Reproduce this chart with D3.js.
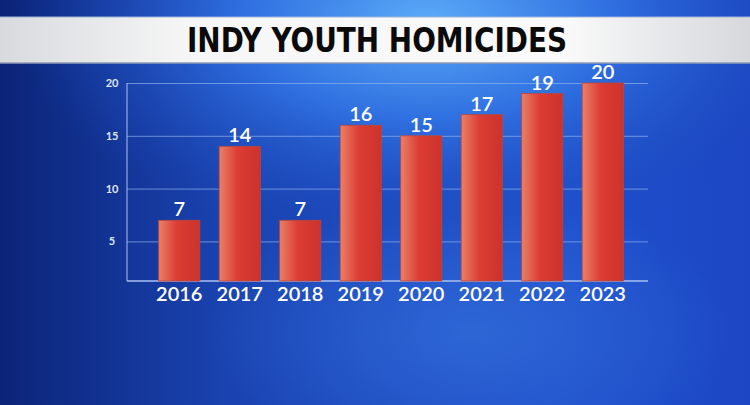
<!DOCTYPE html>
<html>
<head>
<meta charset="utf-8">
<script src="https://cdn.jsdelivr.net/npm/d3@7"></script>
<style>
  html, body { margin: 0; padding: 0; background: #1a47b8; overflow: hidden; }
  svg { display: block; }
</style>
</head>
<body>
<div class="chart"></div>
<script>
// data
var years = ["2016", "2017", "2018", "2019", "2020", "2021", "2022", "2023"];
var homicides = [7, 14, 7, 16, 15, 17, 19, 20];
var yTicks = [5, 10, 15, 20];
var title = "INDY YOUTH HOMICIDES";

var W = 750, H = 405;
var svg = d3.select(".chart").append("svg")
    .attr("width", W)
    .attr("height", H);

var defs = svg.append("defs");

// background glows
var bg1 = defs.append("radialGradient").attr("id", "bgTop")
    .attr("cx", "0.57").attr("cy", "0.05").attr("r", "0.55");
bg1.append("stop").attr("offset", "0").attr("stop-color", "#5aaaf8");
bg1.append("stop").attr("offset", "0.45").attr("stop-color", "#2f6fe0");
bg1.append("stop").attr("offset", "1").attr("stop-color", "#1a45b8").attr("stop-opacity", 0);

var bg2 = defs.append("radialGradient").attr("id", "bgBottom")
    .attr("cx", "0.63").attr("cy", "0.82").attr("r", "0.35");
bg2.append("stop").attr("offset", "0").attr("stop-color", "#2e66d6");
bg2.append("stop").attr("offset", "1").attr("stop-color", "#2e66d6").attr("stop-opacity", 0);

var bgEdge = defs.append("linearGradient").attr("id", "bgEdge")
    .attr("x1", "0").attr("x2", "1").attr("y1", "0").attr("y2", "0");
bgEdge.append("stop").attr("offset", "0").attr("stop-color", "#0b2478");
bgEdge.append("stop").attr("offset", "0.3").attr("stop-color", "#1a43b0");
bgEdge.append("stop").attr("offset", "0.75").attr("stop-color", "#1f50cc");
bgEdge.append("stop").attr("offset", "1").attr("stop-color", "#1c46c4");

svg.append("rect").attr("width", W).attr("height", H).attr("fill", "url(#bgEdge)");
svg.append("rect").attr("width", W).attr("height", H).attr("fill", "url(#bgBottom)");
svg.append("rect").attr("width", W).attr("height", H).attr("fill", "url(#bgTop)");

// title banner
var banner = defs.append("linearGradient").attr("id", "banner")
    .attr("x1", "0").attr("x2", "1").attr("y1", "0").attr("y2", "0");
banner.append("stop").attr("offset", "0").attr("stop-color", "#d8dade");
banner.append("stop").attr("offset", "0.25").attr("stop-color", "#f6f6f6");
banner.append("stop").attr("offset", "0.75").attr("stop-color", "#fafafa");
banner.append("stop").attr("offset", "1").attr("stop-color", "#d6d8dc");

svg.append("rect")
    .attr("x", 0).attr("y", 17)
    .attr("width", W).attr("height", 46)
    .attr("fill", "url(#banner)");
svg.append("line").attr("x1", 0).attr("x2", W).attr("y1", 17).attr("y2", 17)
    .attr("stroke", "#9fb4d8").attr("stroke-width", 1);
svg.append("line").attr("x1", 0).attr("x2", W).attr("y1", 63).attr("y2", 63)
    .attr("stroke", "#8d9bb5").attr("stroke-width", 1.5);

svg.append("text")
    .attr("x", 377).attr("y", 52)
    .attr("text-anchor", "middle")
    .attr("font-family", "'Liberation Sans Narrow', 'DejaVu Sans Condensed', sans-serif")
    .attr("font-weight", "bold")
    .attr("font-size", 33)
    .attr("textLength", 380)
    .attr("lengthAdjust", "spacingAndGlyphs")
    .attr("fill", "#0a0a0a")
    .text(title);

// scales
var plotLeft = 127, plotRight = 648, baseY = 281;
var x = d3.scaleBand()
    .domain(years)
    .range([149, 633])
    .paddingInner(0.32)
    .paddingOuter(0.16);
var y = d3.scaleLinear()
    .domain([1.25, 20])
    .range([baseY, 83]);

// gridlines
var yAxis = d3.axisRight(y)
    .tickValues(yTicks)
    .tickSize(plotRight - plotLeft)
    .tickFormat(d3.format("d"));
var gy = svg.append("g")
    .attr("transform", "translate(" + plotLeft + ",0)")
    .call(yAxis);
gy.select(".domain").remove();
gy.selectAll(".tick line")
    .attr("stroke", "#8fb0ee")
    .attr("stroke-opacity", 0.7)
    .attr("stroke-width", 1);
gy.selectAll(".tick text")
    .attr("x", -15)
    .attr("text-anchor", "middle")
    .attr("fill", "#dfe6f6")
    .attr("font-family", "Lato, sans-serif")
    .attr("font-weight", "bold")
    .attr("font-size", 11);

// left axis line and baseline
svg.append("line")
    .attr("x1", plotLeft).attr("x2", plotLeft)
    .attr("y1", y(20)).attr("y2", baseY)
    .attr("stroke", "#a9c0f2").attr("stroke-width", 1);
svg.append("line")
    .attr("x1", plotLeft).attr("x2", plotRight)
    .attr("y1", baseY).attr("y2", baseY)
    .attr("stroke", "#a9c0f2").attr("stroke-width", 1.5);

// bars
var barFill = defs.append("linearGradient").attr("id", "barFill")
    .attr("x1", "0").attr("x2", "1").attr("y1", "0").attr("y2", "0");
barFill.append("stop").attr("offset", "0").attr("stop-color", "#e88068");
barFill.append("stop").attr("offset", "0.45").attr("stop-color", "#dc3c33");
barFill.append("stop").attr("offset", "1").attr("stop-color", "#cc322c");

var thisdata = years.map(function(d, i) { return {id: d, value: homicides[i]}; });

svg.selectAll(".bar")
    .data(thisdata)
    .enter().append("rect")
    .attr("class", "bar")
    .attr("x", function(d) { return x(d.id); })
    .attr("y", function(d) { return y(d.value); })
    .attr("width", x.bandwidth())
    .attr("height", function(d) { return baseY - y(d.value); })
    .attr("fill", "url(#barFill)")
    .attr("stroke", "#b8473e")
    .attr("stroke-width", 0.8);

// value labels
svg.selectAll(".val")
    .data(thisdata)
    .enter().append("text")
    .attr("class", "val")
    .attr("x", function(d) { return x(d.id) + x.bandwidth() / 2; })
    .attr("y", function(d) { return y(d.value) - 4; })
    .attr("text-anchor", "middle")
    .attr("fill", "#ffffff")
    .attr("font-family", "Lato, sans-serif")
    .attr("font-weight", 600)
    .attr("font-size", 20)
    .text(function(d) { return d.value; });

// year labels
var xAxis = d3.axisBottom(x).tickSize(0).tickPadding(0);
var gx = svg.append("g")
    .attr("transform", "translate(0," + baseY + ")")
    .call(xAxis);
gx.select(".domain").remove();
gx.selectAll(".tick text")
    .attr("y", 20)
    .attr("dy", 0)
    .attr("fill", "#ffffff")
    .attr("font-family", "Lato, sans-serif")
    .attr("font-weight", 600)
    .attr("font-size", 20);
</script>
</body>
</html>
